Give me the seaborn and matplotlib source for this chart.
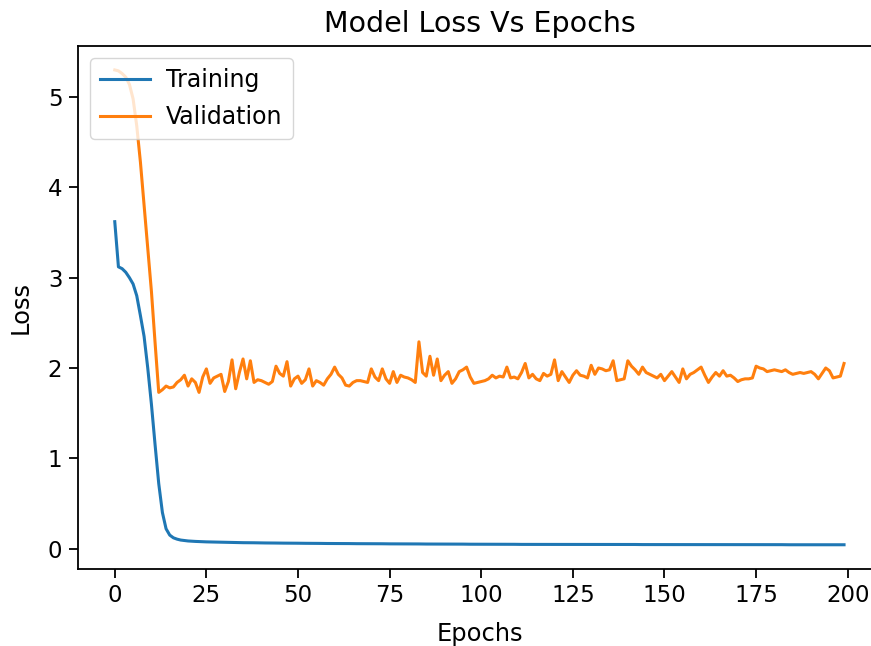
import matplotlib
matplotlib.use("Agg")
import matplotlib.pyplot as plt
import seaborn as sns

epochs = list(range(200))

training_loss = [
    3.62, 3.12, 3.10, 3.06, 3.00, 2.93, 2.80, 2.58, 2.35, 2.00,
    1.60, 1.15, 0.72, 0.40, 0.22, 0.15, 0.12, 0.105, 0.095, 0.09,
    0.085, 0.082, 0.080, 0.078, 0.076, 0.075, 0.074, 0.073, 0.072, 0.071,
    0.070, 0.069, 0.068, 0.068, 0.067, 0.066, 0.066, 0.065, 0.065, 0.064,
    0.064, 0.063, 0.063, 0.062, 0.062, 0.061, 0.061, 0.061, 0.060, 0.060,
    0.060, 0.059, 0.059, 0.059, 0.058, 0.058, 0.058, 0.057, 0.057, 0.057,
    0.057, 0.056, 0.056, 0.056, 0.056, 0.055, 0.055, 0.055, 0.055, 0.054,
    0.054, 0.054, 0.054, 0.054, 0.053, 0.053, 0.053, 0.053, 0.053, 0.052,
    0.052, 0.052, 0.052, 0.052, 0.051, 0.051, 0.051, 0.051, 0.051, 0.051,
    0.050, 0.050, 0.050, 0.050, 0.050, 0.050, 0.049, 0.049, 0.049, 0.049,
    0.049, 0.049, 0.049, 0.048, 0.048, 0.048, 0.048, 0.048, 0.048, 0.048,
    0.047, 0.047, 0.047, 0.047, 0.047, 0.047, 0.047, 0.047, 0.047, 0.047,
    0.047, 0.047, 0.047, 0.046, 0.046, 0.046, 0.046, 0.046, 0.046, 0.046,
    0.046, 0.046, 0.046, 0.046, 0.046, 0.046, 0.046, 0.046, 0.046, 0.046,
    0.046, 0.046, 0.046, 0.045, 0.045, 0.045, 0.045, 0.045, 0.045, 0.045,
    0.045, 0.045, 0.045, 0.045, 0.045, 0.045, 0.045, 0.045, 0.045, 0.045,
    0.045, 0.045, 0.045, 0.044, 0.044, 0.044, 0.044, 0.044, 0.044, 0.044,
    0.044, 0.044, 0.044, 0.044, 0.044, 0.044, 0.044, 0.044, 0.044, 0.044,
    0.044, 0.044, 0.044, 0.043, 0.043, 0.043, 0.043, 0.043, 0.043, 0.043,
    0.043, 0.043, 0.043, 0.043, 0.043, 0.043, 0.043, 0.043, 0.043, 0.043,
]

validation_loss = [
    5.30, 5.29, 5.26, 5.22, 5.14, 4.98, 4.68, 4.28, 3.80, 3.32,
    2.85, 2.28, 1.73, 1.76, 1.80, 1.78, 1.79, 1.84, 1.87, 1.92,
    1.80, 1.88, 1.84, 1.73, 1.90, 1.99, 1.83, 1.89, 1.91, 1.93,
    1.74, 1.85, 2.09, 1.77, 1.95, 2.10, 1.88, 2.08, 1.84, 1.87,
    1.86, 1.84, 1.82, 1.85, 2.02, 1.94, 1.91, 2.07, 1.80, 1.88,
    1.91, 1.83, 1.87, 1.99, 1.80, 1.86, 1.84, 1.81, 1.88, 1.93,
    2.01, 1.93, 1.89, 1.81, 1.80, 1.84, 1.86, 1.86, 1.85, 1.84,
    1.99, 1.90, 1.86, 1.99, 1.88, 1.83, 1.96, 1.84, 1.92, 1.90,
    1.89, 1.87, 1.84, 2.29, 1.95, 1.91, 2.13, 1.92, 2.10, 1.86,
    1.92, 1.96, 1.83, 1.88, 1.96, 1.98, 2.01, 1.90, 1.83, 1.84,
    1.85, 1.86, 1.88, 1.92, 1.89, 1.91, 1.90, 2.01, 1.89, 1.90,
    1.88, 1.95, 2.05, 1.89, 1.93, 1.88, 1.86, 1.94, 1.91, 1.93,
    2.09, 1.86, 1.96, 1.90, 1.84, 1.92, 1.97, 1.92, 1.91, 1.89,
    2.03, 1.93, 2.00, 1.99, 1.97, 1.98, 2.08, 1.86, 1.87, 1.88,
    2.08, 2.02, 1.98, 1.93, 2.01, 1.95, 1.93, 1.91, 1.89, 1.93,
    1.86, 1.91, 1.96, 1.90, 1.84, 1.99, 1.88, 1.93, 1.95, 1.98,
    2.01, 1.92, 1.84, 1.90, 1.95, 1.91, 1.97, 1.91, 1.92, 1.89,
    1.85, 1.87, 1.88, 1.88, 1.89, 2.02, 2.00, 1.99, 1.96, 1.97,
    1.98, 1.97, 1.96, 1.98, 1.95, 1.93, 1.94, 1.95, 1.94, 1.95,
    1.96, 1.93, 1.88, 1.94, 2.00, 1.97, 1.89, 1.90, 1.91, 2.05,
]

series_labels = ["Training", "Validation"]
title_text = "Model Loss Vs Epochs"
x_label = "Epochs"
y_label = "Loss"
x_ticks = [0, 25, 50, 75, 100, 125, 150, 175, 200]
y_ticks = [0, 1, 2, 3, 4, 5]

plt.rcParams.update({
    "font.family": ["DejaVu Sans"],
    "axes.linewidth": 1.3,
    "xtick.major.width": 1.3,
    "ytick.major.width": 1.3,
    "xtick.major.size": 6.5,
    "ytick.major.size": 6.5,
    "xtick.major.pad": 4.6,
    "ytick.major.pad": 5.0,
    "xtick.labelsize": 16.5,
    "ytick.labelsize": 16.5,
})

fig = plt.figure(figsize=(8.71, 6.46), dpi=100)
W, H = 871, 646
left, right, bottom, top = 78.3, 880.5, 568.5, 46.2
ax = fig.add_axes([left / W, (H - bottom) / H, (right - left) / W, (bottom - top) / H])

colors = ["#1f77b4", "#ff7f0e"]
sns.lineplot(x=epochs, y=training_loss, ax=ax, color=colors[0], linewidth=2.2, label=series_labels[0])
sns.lineplot(x=epochs, y=validation_loss, ax=ax, color=colors[1], linewidth=2.2, label=series_labels[1])

ax.set_title(title_text, fontsize=20.5, pad=10)
ax.set_xlabel(x_label, fontsize=17.4, labelpad=11)
ax.set_ylabel(y_label, fontsize=17.4, labelpad=11)
ax.set_xticks(x_ticks)
ax.set_yticks(y_ticks)
ax.margins(x=0.05, y=0.05)
ax.legend(loc="upper left", fontsize=17, framealpha=0.8, edgecolor="#cccccc",
          labelspacing=0.55, borderpad=0.42, handletextpad=0.7, handlelength=2.1)

fig.savefig("out.png", dpi=100)
